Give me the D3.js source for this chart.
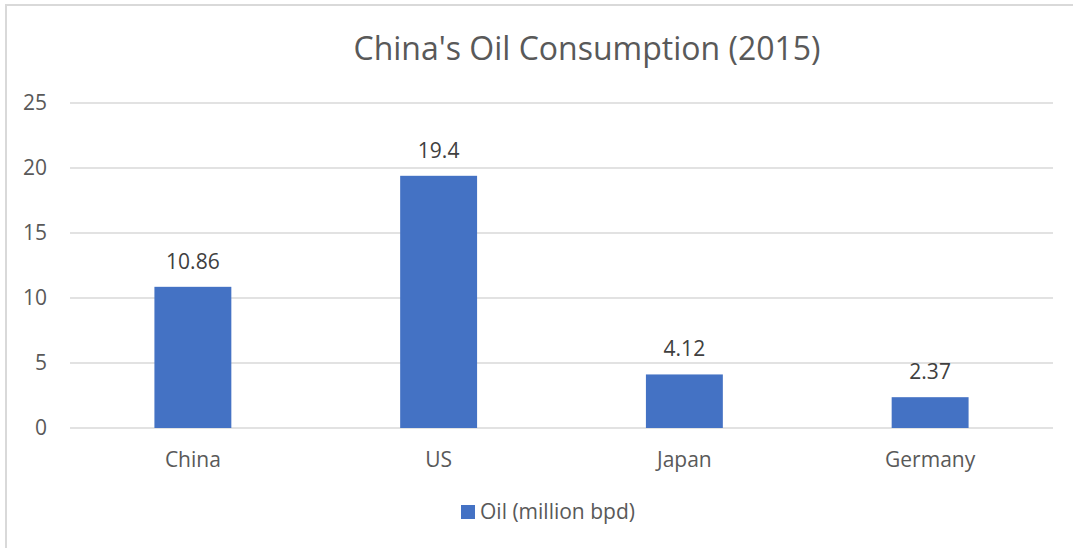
<!DOCTYPE html>
<html>
<head>
<meta charset="utf-8">
<script src="https://cdn.jsdelivr.net/npm/d3@7"></script>
<style>
  html, body { margin: 0; padding: 0; background: #fff; }
  svg { display: block; font-family: "Open Sans", sans-serif; }
</style>
</head>
<body>
<svg id="chart" width="1073" height="548"></svg>
<script>
// Oil consumption by country, million barrels per day
const countries = ["China", "US", "Japan", "Germany"];
const oilValues = [10.86, 19.4, 4.12, 2.37];
const yTicks = [0, 5, 10, 15, 20, 25];
const seriesName = "Oil (million bpd)";
const chartTitle = "China's Oil Consumption (2015)";

const svg = d3.select("#chart");
const W = 1073, H = 548;
const plot = { left: 70, right: 1053, top: 103, bottom: 428 };

// chart area frame (right and bottom edges fall outside the canvas)
svg.append("rect")
  .attr("x", 6).attr("y", 5)
  .attr("width", W + 10).attr("height", H + 10)
  .attr("fill", "#fff")
  .attr("stroke", "#d9d9d9").attr("stroke-width", 2);

const x = d3.scaleBand()
  .domain(countries)
  .range([plot.left, plot.right])
  .paddingInner(0.687)
  .paddingOuter(0.3435);

const y = d3.scaleLinear()
  .domain([0, 25])
  .range([plot.bottom, plot.top]);

// horizontal gridlines
svg.append("g")
  .selectAll("line")
  .data(yTicks)
  .join("line")
  .attr("x1", plot.left).attr("x2", plot.right)
  .attr("y1", d => y(d)).attr("y2", d => y(d))
  .attr("stroke", "#d9d9d9").attr("stroke-width", 1.5);

// y axis labels
const yAxis = svg.append("g")
  .attr("transform", `translate(${plot.left - 23},0)`)
  .call(d3.axisLeft(y).tickValues(yTicks).tickSize(0).tickPadding(0).tickFormat(d3.format("d")));
yAxis.select(".domain").remove();
yAxis.selectAll("text")
  .attr("fill", "#595959")
  .style("font-size", "21px")
  .style("font-family", "'Open Sans', sans-serif");

// bars
svg.append("g")
  .selectAll("rect")
  .data(countries)
  .join("rect")
  .attr("x", d => x(d))
  .attr("width", x.bandwidth())
  .attr("y", (d, i) => y(oilValues[i]))
  .attr("height", (d, i) => y(0) - y(oilValues[i]))
  .attr("fill", "#4472c4");

// value labels above bars
svg.append("g")
  .selectAll("text")
  .data(countries)
  .join("text")
  .attr("x", d => x(d) + x.bandwidth() / 2)
  .attr("y", (d, i) => y(oilValues[i]) - 18)
  .attr("text-anchor", "middle")
  .attr("fill", "#404040")
  .style("font-size", "21px")
  .text((d, i) => oilValues[i]);

// category axis labels
const xAxis = svg.append("g")
  .attr("transform", `translate(0,${plot.bottom})`)
  .call(d3.axisBottom(x).tickSize(0).tickPadding(24));
xAxis.select(".domain").remove();
xAxis.selectAll("text")
  .attr("fill", "#595959")
  .style("font-size", "21px")
  .style("font-family", "'Open Sans', sans-serif");

// title
svg.append("text")
  .attr("x", 587).attr("y", 60)
  .attr("text-anchor", "middle")
  .attr("fill", "#595959")
  .style("font-size", "32px")
  .text(chartTitle);

// legend
const legend = svg.append("g").attr("transform", "translate(461,505)");
legend.append("rect")
  .attr("width", 14).attr("height", 14)
  .attr("fill", "#4472c4");
legend.append("text")
  .attr("x", 19).attr("y", 14)
  .attr("fill", "#595959")
  .style("font-size", "21px")
  .text(seriesName);
</script>
</body>
</html>
